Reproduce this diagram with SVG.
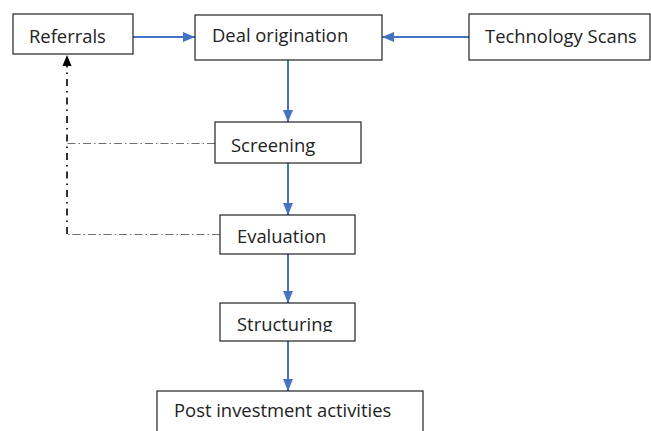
<svg xmlns="http://www.w3.org/2000/svg" width="651" height="431" viewBox="0 0 651 431">
<style>
.box{fill:#fff;stroke:#222;stroke-width:1.2}
.lbl{font-family:"Open Sans",sans-serif;font-size:18.4px;fill:#222}
.flow{stroke:#4472C4;stroke-width:2;fill:none}
.fb{stroke:#6f6f6f;stroke-width:1;fill:none;stroke-dasharray:8 3 1.5 3}
.fbv{stroke:#000;stroke-width:1.6;fill:none;stroke-dasharray:7 5 1.5 5}
</style>
<defs>
<marker id="ab" viewBox="0 0 12 10" refX="12" refY="5" markerWidth="12" markerHeight="10" markerUnits="userSpaceOnUse" orient="auto">
<path d="M0,0 L12,5 L0,10 Z" fill="#4472C4"/>
</marker>
<marker id="ak" viewBox="0 0 12 10" refX="12" refY="5" markerWidth="11" markerHeight="10" markerUnits="userSpaceOnUse" orient="auto">
<path d="M0,0 L12,5 L0,10 Z" fill="#000"/>
</marker>
<clipPath id="cs"><rect x="220" y="303" width="135" height="29"/></clipPath>
</defs>
<g id="connectors">
<line class="flow" x1="133" y1="37" x2="195" y2="37" marker-end="url(#ab)"/>
<line class="flow" x1="469" y1="37" x2="382" y2="37" marker-end="url(#ab)"/>
<line class="flow" x1="288" y1="60" x2="288" y2="122" marker-end="url(#ab)"/>
<line class="flow" x1="288" y1="163" x2="288" y2="215" marker-end="url(#ab)"/>
<line class="flow" x1="288" y1="254" x2="288" y2="303" marker-end="url(#ab)"/>
<line class="flow" x1="288" y1="341" x2="288" y2="391" marker-end="url(#ab)"/>
<line class="fb" x1="215" y1="143.5" x2="67" y2="143.5"/>
<line class="fb" x1="220" y1="234.5" x2="67" y2="234.5"/>
<line class="fbv" x1="67" y1="234" x2="67" y2="66"/>
<line stroke="none" x1="67" y1="70" x2="67" y2="55" marker-end="url(#ak)"/>
</g>
<g id="referrals"><rect class="box" x="13" y="14" width="120" height="40"/><text class="lbl" x="29" y="43">Referrals</text></g>
<g id="deal-origination"><rect class="box" x="195" y="15" width="187" height="45"/><text class="lbl" x="212" y="42">Deal origination</text></g>
<g id="technology-scans"><rect class="box" x="469" y="14" width="181" height="46"/><text class="lbl" x="485" y="43">Technology Scans</text></g>
<g id="screening"><rect class="box" x="215" y="122" width="146" height="41"/><text class="lbl" x="231" y="152">Screening</text></g>
<g id="evaluation"><rect class="box" x="220" y="215" width="135" height="39"/><text class="lbl" x="237" y="243">Evaluation</text></g>
<g id="structuring"><rect class="box" x="220" y="303" width="135" height="38"/><text class="lbl" x="237" y="331" clip-path="url(#cs)">Structuring</text></g>
<g id="post-investment"><rect class="box" x="157" y="391" width="266" height="45"/><text class="lbl" x="174" y="417">Post investment activities</text></g>
</svg>
